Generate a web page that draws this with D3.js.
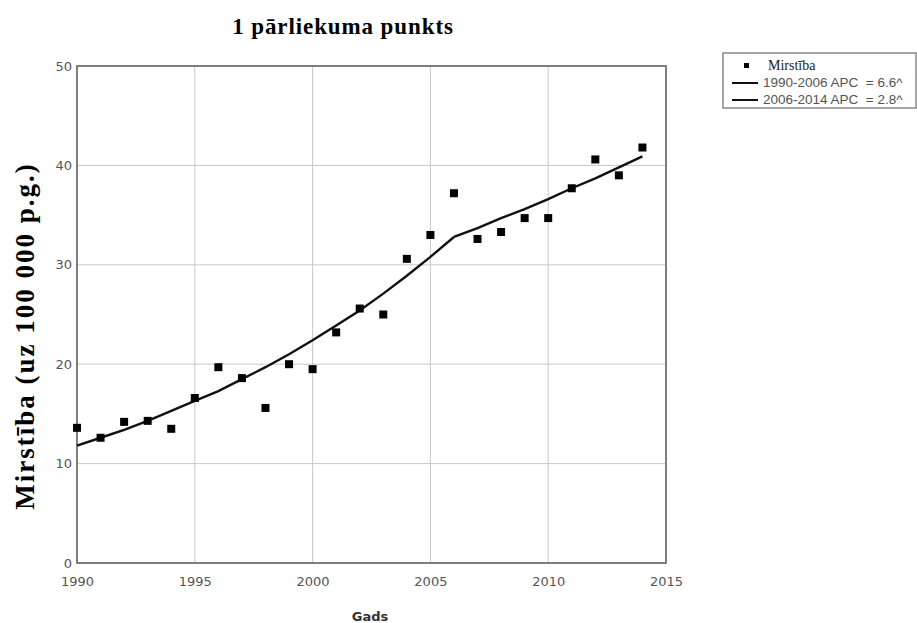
<!DOCTYPE html>
<head>
  <meta charset="utf-8">
  <title>1 pārliekuma punkts</title>
  <script src="https://cdn.jsdelivr.net/npm/d3@7"></script>
  <style>
    body { margin: 0; background: #fff; }
  </style>
</head>
<body>
<div id="chart"></div>
<script>
  // observed mortality per year
  var years = [1990, 1991, 1992, 1993, 1994, 1995, 1996, 1997, 1998, 1999, 2000, 2001, 2002,
               2003, 2004, 2005, 2006, 2007, 2008, 2009, 2010, 2011, 2012, 2013, 2014];
  var mortality = [13.6, 12.6, 14.2, 14.3, 13.5, 16.6, 19.7, 18.6, 15.6, 20.0, 19.5, 23.2, 25.6,
                   25.0, 30.6, 33.0, 37.2, 32.6, 33.3, 34.7, 34.7, 37.7, 40.6, 39.0, 41.8];
  // fitted joinpoint segments
  var seg1Years = [1990, 1991, 1992, 1993, 1994, 1995, 1996, 1997, 1998, 1999, 2000, 2001, 2002, 2003, 2004, 2005, 2006];
  var seg1Fit = [11.8, 12.6, 13.4, 14.3, 15.3, 16.3, 17.3, 18.5, 19.7, 21.0, 22.4, 23.9, 25.4, 27.1, 28.9, 30.8, 32.8];
  var seg2Years = [2006, 2007, 2008, 2009, 2010, 2011, 2012, 2013, 2014];
  var seg2Fit = [32.8, 33.7, 34.7, 35.6, 36.6, 37.7, 38.7, 39.8, 40.9];

  var xTicks = [1990, 1995, 2000, 2005, 2010, 2015];
  var yTicks = [0, 10, 20, 30, 40, 50];
  var legendLabels = ["Mirstība", "1990-2006 APC  = 6.6^", "2006-2014 APC  = 2.8^"];

  var W = 917, H = 623;
  var margin = {top: 66, right: 251, bottom: 60, left: 77},
      width = W - margin.left - margin.right,
      height = H - margin.top - margin.bottom;

  var svg = d3.select("#chart").append("svg")
    .attr("width", W).attr("height", H);

  var g = svg.append("g")
    .attr("transform", "translate(" + margin.left + "," + margin.top + ")");

  var x = d3.scaleLinear().domain([1990, 2015]).range([0, width]);
  var y = d3.scaleLinear().domain([0, 50]).range([height, 0]);

  // grid
  g.append("g")
    .selectAll("line.v").data(xTicks).enter().append("line")
    .attr("x1", d => x(d)).attr("x2", d => x(d))
    .attr("y1", 0).attr("y2", height)
    .attr("stroke", "#c8c8c8").attr("stroke-width", 1);
  g.append("g")
    .selectAll("line.h").data(yTicks).enter().append("line")
    .attr("x1", 0).attr("x2", width)
    .attr("y1", d => y(d)).attr("y2", d => y(d))
    .attr("stroke", "#c8c8c8").attr("stroke-width", 1);

  // axes
  var xAxis = g.append("g")
    .attr("transform", "translate(0," + height + ")")
    .call(d3.axisBottom(x).tickValues(xTicks).tickFormat(d3.format("d")).tickSize(0).tickPadding(14));
  var yAxis = g.append("g")
    .call(d3.axisLeft(y).tickValues(yTicks).tickSize(0).tickPadding(5));
  [xAxis, yAxis].forEach(function(a) {
    a.select(".domain").remove();
    a.selectAll("text")
      .attr("fill", "#555")
      .style("font-family", "'DejaVu Sans', sans-serif")
      .style("font-size", "13px");
  });

  // plot frame
  g.append("rect")
    .attr("x", 0).attr("y", 0).attr("width", width).attr("height", height)
    .attr("fill", "none").attr("stroke", "#666").attr("stroke-width", 1.6);

  // fitted lines
  var line = d3.line().x(d => x(d[0])).y(d => y(d[1]));
  [d3.zip(seg1Years, seg1Fit), d3.zip(seg2Years, seg2Fit)].forEach(function(seg) {
    g.append("path").datum(seg)
      .attr("fill", "none").attr("stroke", "#111").attr("stroke-width", 2.4)
      .attr("d", line);
  });

  // observed points
  g.selectAll("rect.pt").data(d3.zip(years, mortality)).enter().append("rect")
    .attr("class", "pt")
    .attr("x", d => x(d[0]) - 4).attr("y", d => y(d[1]) - 4)
    .attr("width", 8).attr("height", 8)
    .attr("fill", "#000");

  // title
  svg.append("text")
    .attr("x", 343).attr("y", 34)
    .attr("text-anchor", "middle")
    .style("font-family", "'Liberation Serif', 'Times New Roman', serif")
    .style("font-weight", "bold").style("font-size", "23px")
    .style("letter-spacing", "0.9px")
    .text("1 pārliekuma punkts");

  // y label
  svg.append("text")
    .attr("transform", "translate(34,336) rotate(-90)")
    .attr("text-anchor", "middle")
    .style("font-family", "'Liberation Serif', 'Times New Roman', serif")
    .style("font-weight", "bold").style("font-size", "27px")
    .style("letter-spacing", "2px")
    .text("Mirstība (uz 100 000 p.g.)");

  // x label
  svg.append("text")
    .attr("x", 370).attr("y", 621)
    .attr("text-anchor", "middle")
    .attr("fill", "#333")
    .style("font-family", "'DejaVu Sans', sans-serif")
    .style("font-weight", "bold").style("font-size", "13px")
    .text("Gads");

  // legend
  var lg = svg.append("g").attr("transform", "translate(723,53)");
  lg.append("rect").attr("width", 193).attr("height", 55)
    .attr("fill", "#fff").attr("stroke", "#888").attr("stroke-width", 1.5);
  lg.append("rect").attr("x", 21).attr("y", 10).attr("width", 5).attr("height", 5).attr("fill", "#000");
  lg.append("text").attr("x", 45).attr("y", 17)
    .style("font-family", "'Liberation Serif', serif").style("font-size", "14px")
    .attr("fill", "#222")
    .text(legendLabels[0]);
  legendLabels.slice(1).forEach(function(t, i) {
    var yy = 30 + i * 17;
    lg.append("line").attr("x1", 9).attr("x2", 35).attr("y1", yy).attr("y2", yy)
      .attr("stroke", "#111").attr("stroke-width", 2);
    lg.append("text").attr("x", 40).attr("y", yy + 4)
      .attr("fill", "#555")
      .attr("xml:space", "preserve")
      .style("white-space", "pre")
      .style("font-family", "'Liberation Sans', Arial, sans-serif").style("font-size", "13.5px")
      .text(t);
  });
</script>
</body>
